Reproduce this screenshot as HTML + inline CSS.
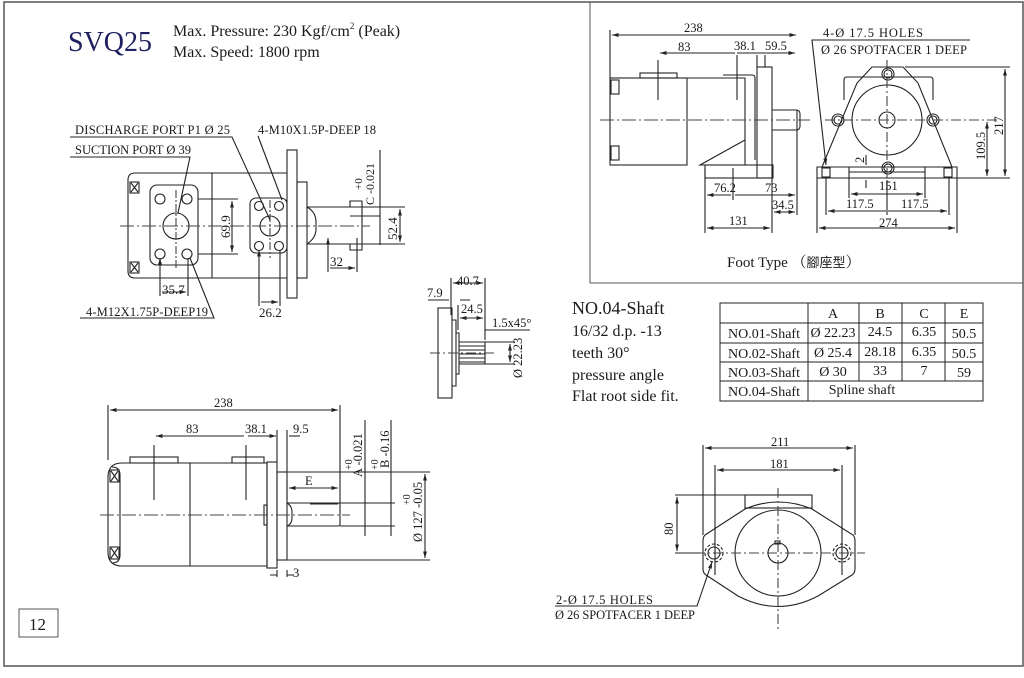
<!DOCTYPE html>
<html><head><meta charset="utf-8"><style>
html,body{margin:0;padding:0;background:#fff;}
svg{display:block;}
text{font-family:"Liberation Serif","Noto Serif CJK SC",serif;fill:#1a1a1a;}
</style></head><body>
<svg width="1024" height="678" viewBox="0 0 1024 678" xmlns="http://www.w3.org/2000/svg">
<defs>
<marker id="a" viewBox="0 0 10 10" refX="10" refY="5" markerWidth="6" markerHeight="6" orient="auto-start-reverse"><path d="M0,2 L10,5 L0,8z" fill="#222"/></marker>
</defs>
<g fill="none" stroke="#555" stroke-width="1">
<rect x="4" y="2" width="1019" height="664" stroke="#555" stroke-width="1.5"/>
<path d="M590,2 V283 H1023"/>
<rect x="19" y="609" width="39" height="28"/>
</g>
<text x="68" y="51" font-size="28" style="fill:#1d1f5e">SVQ25</text>
<text x="173" y="36" font-size="16">Max. Pressure: 230 Kgf/cm<tspan font-size="9" dy="-7">2</tspan><tspan dy="7"> (Peak)</tspan></text>
<text x="173" y="57" font-size="16">Max. Speed: 1800 rpm</text>
<text x="29" y="630" font-size="17">12</text>

<!-- TOP-LEFT VIEW -->
<g fill="none" stroke="#222" stroke-width="1.1">
<path d="M135,173 H287 M128,180 Q128,173 135,173 M128,180 V271 Q128,278 135,278 H287"/>
<rect x="130" y="182" width="9" height="11"/><rect x="130" y="262" width="9" height="11"/>
<path d="M131,183 L138,192 M138,183 L131,192 M131,263 L138,272 M138,263 L131,272"/>
<rect x="287" y="150" width="10" height="148"/>
<rect x="297" y="182" width="10" height="96"/>
<path d="M307,207 H350 V201 H362 V250 H350 V244 H307 M307,207 Q316,212 316,222 V229 Q316,238 307,244"/>
<rect x="150" y="185" width="48" height="80" rx="7"/>
<circle cx="176" cy="226" r="13"/>
<circle cx="160" cy="199" r="5"/><circle cx="187" cy="199" r="5"/><circle cx="160" cy="254" r="5"/><circle cx="187" cy="254" r="5"/>
<rect x="250" y="198" width="37" height="55" rx="6"/>
<circle cx="270" cy="226" r="10"/>
<circle cx="259" cy="206" r="4.5"/><circle cx="279" cy="206" r="4.5"/><circle cx="259" cy="246" r="4.5"/><circle cx="279" cy="246" r="4.5"/>
<path d="M212,173 V278" />
<path d="M120,226 H370" stroke-dasharray="14,3,2,3" stroke="#444"/>
<path d="M176,190 V268 M270,200 V258" stroke-dasharray="8,2,2,2" stroke="#444"/>
<path d="M198,199 H238 M198,254 H238"/>
<path d="M232,201 V252" marker-start="url(#a)" marker-end="url(#a)"/>
<path d="M307,207 H405 M307,244 H405 M350,216 H380"/>
<path d="M400,209 V242" marker-start="url(#a)" marker-end="url(#a)"/>
<path d="M380,150 V245"/>
<path d="M328,238 V272 M357,238 V272 M330,268 H355" marker-start="url(#a)" marker-end="url(#a)"/>
<path d="M160,258 V296 M188,258 V296 M162,292 H186" marker-start="url(#a)" marker-end="url(#a)"/>
<path d="M259,250 V306 M280,250 V306 M261,302 H278" marker-start="url(#a)" marker-end="url(#a)"/>
<path d="M70,137 H232 L270,220 M70,157 H190 L178,213 M258,136 L282,200 M80,318 H214 L190,258"/>
</g>
<g font-size="12.5">
<text x="75" y="134" textLength="155">DISCHARGE PORT P1 Ø 25</text>
<text x="75" y="154">SUCTION PORT  Ø 39</text>
<text x="258" y="134" textLength="118">4-M10X1.5P-DEEP 18</text>
<text x="86" y="316" textLength="122">4-M12X1.75P-DEEP19</text>
<text x="330" y="266" font-size="13">32</text>
<text x="162" y="294" font-size="13">35.7</text>
<text x="259" y="317" font-size="13">26.2</text>
<text font-size="13" transform="translate(230,238) rotate(-90)">69.9</text>
<text font-size="13" transform="translate(397,240) rotate(-90)">52.4</text>
<text font-size="11" transform="translate(362,190) rotate(-90)">+0</text>
<text font-size="12" transform="translate(374,205) rotate(-90)">C -0.021</text>
</g>

<!-- FOOT TYPE -->
<g fill="none" stroke="#222" stroke-width="1.1">
<rect x="610" y="78" width="77" height="87"/>
<rect x="611" y="80" width="8" height="14"/><rect x="611" y="146" width="8" height="14"/>
<rect x="640" y="73" width="37" height="5"/>
<path d="M687,78 H745 V165 H700 L745,140"/>
<path d="M723,75 H752 Q755,75 755,78 V160"/>
<rect x="757" y="67" width="15" height="111"/>
<rect x="705" y="165" width="68" height="13"/>
<path d="M772,110 H796 Q800,110 800,114 V126 Q800,130 796,130 H772"/>
<path d="M600,120 H810" stroke-dasharray="14,3,2,3" stroke="#444"/>
<path d="M610,78 V30 M797,110 V215 M772,178 V233 M705,168 V233 M733,168 V200 M658,60 V100 M737,55 V100 M757,55 V67 M765,55 V67"/>
<path d="M612,35 H796" marker-start="url(#a)" marker-end="url(#a)"/>
<path d="M660,53 H735 M737,53 H795" marker-start="url(#a)" marker-end="url(#a)"/>
<path d="M707,195 H731 M735,195 H795" marker-start="url(#a)" marker-end="url(#a)"/>
<path d="M774,212 H795" marker-start="url(#a)" marker-end="url(#a)"/>
<path d="M707,228 H770" marker-start="url(#a)" marker-end="url(#a)"/>
<path d="M844,100 V80 Q844,77 847,77 H930 Q933,77 933,80 V100"/>
<path d="M822,167 L857,83 L872,67 H903 L918,83 L952,167"/>
<path d="M817,167 H957 V178 H817 Z M849,167 V172 H925 V167"/>
<circle cx="887" cy="120" r="35"/><circle cx="887" cy="120" r="8"/>
<circle cx="888" cy="74" r="6"/><circle cx="888" cy="74" r="4"/>
<circle cx="838" cy="120" r="6"/><circle cx="838" cy="120" r="4"/>
<circle cx="933" cy="120" r="6"/><circle cx="933" cy="120" r="4"/>
<circle cx="888" cy="168" r="6"/><circle cx="888" cy="168" r="4"/>
<rect x="822" y="168" width="8" height="9"/><rect x="944" y="168" width="8" height="9"/>
<path d="M825,120 H998 M887,60 V190" stroke-dasharray="10,3,2,3" stroke="#444"/>
<path d="M905,67 H1010 M957,178 H1010 M817,178 V233 M957,178 V233 M826,178 V215 M949,178 V215 M849,172 V198 M925,172 V198 M887,180 V215"/>
<path d="M1005,69 V176" marker-start="url(#a)" marker-end="url(#a)"/>
<path d="M987,122 V176" marker-start="url(#a)" marker-end="url(#a)"/>
<path d="M851,194 H923" marker-start="url(#a)" marker-end="url(#a)"/>
<path d="M828,211 H886 M888,211 H947" marker-start="url(#a)" marker-end="url(#a)"/>
<path d="M819,228 H955" marker-start="url(#a)" marker-end="url(#a)"/>
<path d="M866,155 V165 M866,180 V188"/>
<path d="M970,40 H812 L826,165" marker-end="url(#a)"/>
</g>
<g font-size="12.5">
<text x="684" y="32">238</text>
<text x="678" y="51">83</text>
<text x="734" y="50">38.1</text>
<text x="765" y="50">59.5</text>
<text x="823" y="37" textLength="100">4-Ø 17.5 HOLES</text>
<text x="821" y="54" textLength="146">Ø 26 SPOTFACER 1 DEEP</text>
<text x="714" y="192">76.2</text>
<text x="765" y="192">73</text>
<text x="772" y="209">34.5</text>
<text x="729" y="225">131</text>
<text x="879" y="190">151</text>
<text x="846" y="208">117.5</text>
<text x="901" y="208">117.5</text>
<text x="879" y="227">274</text>
<text transform="translate(1003,135) rotate(-90)">217</text>
<text transform="translate(985,160) rotate(-90)">109.5</text>
<text transform="translate(864,163) rotate(-90)">2</text>
</g>
<text x="727" y="267" font-size="15">Foot Type （<tspan font-family="Noto Sans CJK TC, sans-serif" font-size="13">腳座型</tspan>）</text>

<!-- SPLINE VIEW -->
<g fill="none" stroke="#222" stroke-width="1.1">
<rect x="438" y="308" width="14" height="90"/>
<path d="M452,320 H456 V386 H452 M456,333 H459 V374 H456"/>
<path d="M459,342 H485 V364 H459 M459,346 H485 M459,350 H485 M459,354 H485 M459,358 H485 M459,362 H485"/>
<path d="M430,353 H495" stroke-dasharray="10,3,2,3" stroke="#444"/>
<path d="M451,278 V315 M485,278 V340 M458,305 V330"/>
<path d="M453,283 H483" marker-start="url(#a)" marker-end="url(#a)"/>
<path d="M428,300 H449 M460,300 H470"/>
<path d="M460,318 H483" marker-start="url(#a)" marker-end="url(#a)"/>
<path d="M485,330 H530 M485,342 H515 M485,364 H515"/>
<path d="M510,344 V362" marker-start="url(#a)" marker-end="url(#a)"/>
</g>
<g font-size="12.5">
<text x="457" y="285">40.7</text>
<text x="427" y="297">7.9</text>
<text x="461" y="313">24.5</text>
<text x="492" y="327">1.5x45°</text>
<text transform="translate(522,378) rotate(-90)">Ø 22.23</text>
</g>
<g font-size="16">
<text x="572" y="314" font-size="18">NO.04-Shaft</text>
<text x="572" y="336">16/32 d.p. -13</text>
<text x="572" y="358">teeth 30°</text>
<text x="572" y="380">pressure angle</text>
<text x="572" y="401">Flat root side fit.</text>
</g>

<!-- TABLE -->
<g fill="none" stroke="#222" stroke-width="1">
<rect x="720" y="303" width="263" height="98"/>
<path d="M720,323 H983 M720,343 H983 M720,362 H983 M720,381 H983 M808,303 V401 M859,303 V381 M902,303 V381 M945,303 V381"/>
</g>
<g font-size="14" text-anchor="middle">
<text x="833" y="318">A</text><text x="880" y="318">B</text><text x="924" y="318">C</text><text x="964" y="318">E</text>
<text x="764" y="338">NO.01-Shaft</text><text x="833" y="337">Ø 22.23</text><text x="880" y="336">24.5</text><text x="924" y="336">6.35</text><text x="964" y="338">50.5</text>
<text x="764" y="358">NO.02-Shaft</text><text x="833" y="357">Ø 25.4</text><text x="880" y="356">28.18</text><text x="924" y="356">6.35</text><text x="964" y="358">50.5</text>
<text x="764" y="377">NO.03-Shaft</text><text x="833" y="376">Ø 30</text><text x="880" y="375">33</text><text x="924" y="375">7</text><text x="964" y="377">59</text>
<text x="764" y="396">NO.04-Shaft</text><text x="862" y="394">Spline shaft</text>
</g>

<!-- BOTTOM SIDE VIEW -->
<g fill="none" stroke="#222" stroke-width="1.1">
<path d="M122,463 H267 V566 H122 Q108,566 108,552 V477 Q108,463 122,463"/>
<path d="M112,467 Q120,467 120,475 V555 Q120,563 112,563"/>
<rect x="110" y="470" width="9" height="12"/><rect x="110" y="547" width="9" height="12"/>
<path d="M111,471 L118,481 M118,471 L111,481 M111,548 L118,558 M118,548 L111,558"/>
<path d="M190,463 V566"/>
<rect x="130" y="457" width="48" height="6"/><rect x="232" y="457" width="32" height="6"/>
<rect x="267" y="462" width="10" height="106"/>
<rect x="277" y="472" width="10" height="88"/>
<rect x="264" y="505" width="3" height="20"/>
<path d="M287,503 H338 Q340,503 340,505 V524 Q340,526 338,526 H287 M287,503 Q292,506 292,512 V518 Q292,524 287,526 M310,504 H338"/>
<path d="M100,515 H350" stroke-dasharray="14,3,2,3" stroke="#444"/>
<path d="M108,460 V405 M340,405 V503 M154,445 V500 M246,445 V500 M277,430 V462 M287,430 V472 M287,480 V500"/>
<path d="M110,410 H338" marker-start="url(#a)" marker-end="url(#a)"/>
<path d="M156,436 H244 M248,436 H276" marker-start="url(#a)" marker-end="url(#a)"/>
<path d="M289,436 H300"/>
<path d="M289,488 H338" marker-start="url(#a)" marker-end="url(#a)"/>
<path d="M287,472 H430 M287,560 H430 M340,503 H395 M340,526 H395"/>
<path d="M425,474 V558" marker-start="url(#a)" marker-end="url(#a)"/>
<path d="M365,420 V536 M391,420 V536"/>
<path d="M277,570 V577 M287,570 V577 M270,575 H277 M287,575 H294" />
</g>
<g font-size="12.5">
<text x="214" y="407">238</text>
<text x="186" y="433">83</text>
<text x="245" y="433">38.1</text>
<text x="293" y="433">9.5</text>
<text x="305" y="485">E</text>
<text x="293" y="577">3</text>
<text transform="translate(352,470) rotate(-90)" font-size="10">+0</text>
<text transform="translate(362,477) rotate(-90)">A -0.021</text>
<text transform="translate(378,470) rotate(-90)" font-size="10">+0</text>
<text transform="translate(389,468) rotate(-90)">B -0.16</text>
<text transform="translate(410,505) rotate(-90)" font-size="10">+0</text>
<text transform="translate(422,542) rotate(-90)">Ø 127 -0.05</text>
</g>

<!-- BOTTOM FRONT VIEW -->
<g fill="none" stroke="#222" stroke-width="1.1">
<rect x="745" y="495" width="67" height="13"/>
<path d="M705,535 L745,509 Q778,495 812,509 L853,535 Q855,537 855,541 V569 Q855,573 852,575 L818,596 Q778,617 738,596 L706,575 Q703,573 703,569 V541 Q703,537 705,535 Z"/>
<circle cx="778" cy="553" r="43"/><circle cx="778" cy="553" r="10"/>
<rect x="775" y="541" width="5" height="3"/>
<circle cx="714" cy="553" r="6"/><circle cx="714" cy="553" r="9" stroke-dasharray="3,2"/>
<circle cx="842" cy="553" r="6"/><circle cx="842" cy="553" r="9" stroke-dasharray="3,2"/>
<path d="M695,553 H865 M778,488 V630" stroke-dasharray="10,3,2,3" stroke="#444"/>
<path d="M703,445 V535 M855,445 V535 M715,465 V575 M842,465 V575 M675,495 H745 M675,553 H700"/>
<path d="M705,448 H853" marker-start="url(#a)" marker-end="url(#a)"/>
<path d="M717,470 H840" marker-start="url(#a)" marker-end="url(#a)"/>
<path d="M677,497 V551" marker-start="url(#a)" marker-end="url(#a)"/>
<path d="M555,606 H697 L712,562" marker-end="url(#a)"/>
</g>
<g font-size="12.5">
<text x="771" y="446">211</text>
<text x="770" y="468">181</text>
<text transform="translate(673,535) rotate(-90)">80</text>
<text x="556" y="604" textLength="97">2-Ø 17.5 HOLES</text>
<text x="555" y="619" textLength="140">Ø 26 SPOTFACER 1 DEEP</text>
</g>
</svg>
</body></html>
